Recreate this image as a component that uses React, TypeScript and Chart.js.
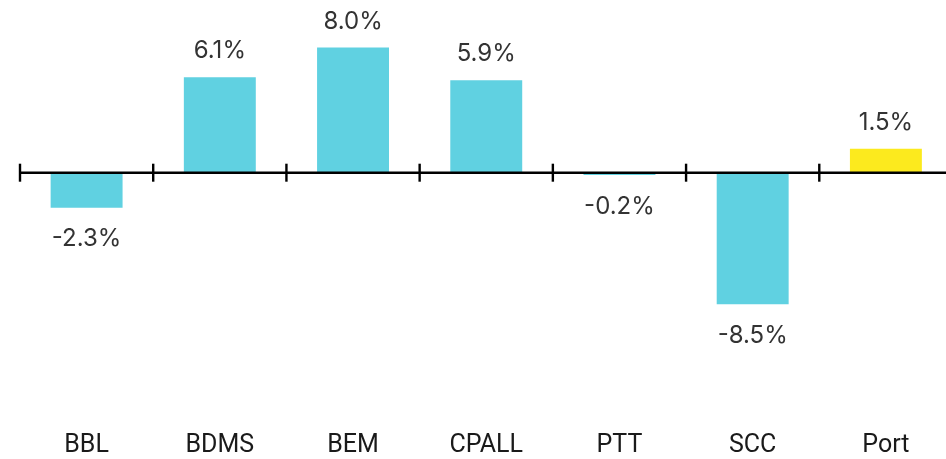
import React, { useEffect, useRef } from "react";
import { Chart, registerables } from "chart.js";

Chart.register(...registerables);

const categories = ["BBL", "BDMS", "BEM", "CPALL", "PTT", "SCC", "Port"];
const returns = [-2.3, 6.1, 8.0, 5.9, -0.2, -8.5, 1.5];
const highlightCategory = "Port";

const BAR_COLOR = "#60d1e1";
const HIGHLIGHT_COLOR = "#fcea1e";

const valueLabelPlugin = {
  id: "valueLabels",
  afterDatasetsDraw(chart: any) {
    const ctx = chart.ctx;
    const meta = chart.getDatasetMeta(0);
    const data = chart.data.datasets[0].data as number[];
    ctx.save();
    ctx.font = "24px Inter";
    ctx.fillStyle = "#333333";
    ctx.textAlign = "center";
    ctx.textBaseline = "alphabetic";
    meta.data.forEach((el: any, i: number) => {
      const v = data[i];
      const txt = v.toFixed(1) + "%";
      if (v >= 0) {
        ctx.fillText(txt, el.x, el.y - 19);
      } else {
        ctx.fillText(txt, el.x, el.y + 38.5);
      }
    });
    ctx.restore();
  },
};

const zeroAxisPlugin = {
  id: "zeroAxis",
  afterDatasetsDraw(chart: any) {
    const ctx = chart.ctx;
    const x = chart.scales.x;
    const y = chart.scales.y;
    const zy = y.getPixelForValue(0) + 0.7;
    ctx.save();
    ctx.strokeStyle = "#000000";
    ctx.lineWidth = 2.6;
    ctx.beginPath();
    ctx.moveTo(x.left, zy);
    ctx.lineTo(chart.width, zy);
    ctx.stroke();
    ctx.lineWidth = 2.4;
    for (let i = 0; i <= categories.length; i++) {
      const bx = x.getPixelForValue(i - 0.5);
      ctx.beginPath();
      ctx.moveTo(bx, zy - 9);
      ctx.lineTo(bx, zy + 9);
      ctx.stroke();
    }
    ctx.restore();
  },
};

export default function App() {
  const ref = useRef<HTMLCanvasElement | null>(null);
  useEffect(() => {
    if (!ref.current) return;
    const chart = new Chart(ref.current, {
      type: "bar",
      data: {
        labels: categories,
        datasets: [
          {
            data: returns,
            backgroundColor: categories.map((c) =>
              c === highlightCategory ? HIGHLIGHT_COLOR : BAR_COLOR
            ),
            borderWidth: 0,
            barPercentage: 0.54,
            categoryPercentage: 1,
          },
        ],
      },
      options: {
        responsive: false,
        animation: false,
        devicePixelRatio: 1,
        layout: { padding: { left: 20, right: 7.5, top: 16.5, bottom: 1 } },
        plugins: {
          legend: { display: false },
          tooltip: { enabled: false },
          title: { display: false },
        },
        scales: {
          x: {
            grid: { display: false, drawTicks: false },
            border: { display: false },
            ticks: {
              color: "#1a1a1a",
              font: { family: "Roboto", size: 25, lineHeight: 1 },
              padding: 43.3,
              maxRotation: 0,
              autoSkip: false,
            },
            afterFit: (scale: any) => {
              scale.height = 68.3;
            },
          },
          y: {
            display: false,
            min: -14,
            max: 10,
          },
        },
      },
      plugins: [valueLabelPlugin, zeroAxisPlugin],
    });
    return () => chart.destroy();
  }, []);
  return (
    <div
      style={{
        position: "fixed",
        left: 0,
        top: 0,
        width: 946,
        height: 459,
        overflow: "hidden",
        background: "#ffffff",
      }}
    >
      <canvas ref={ref} width={960} height={459} style={{ display: "block" }} />
    </div>
  );
}
